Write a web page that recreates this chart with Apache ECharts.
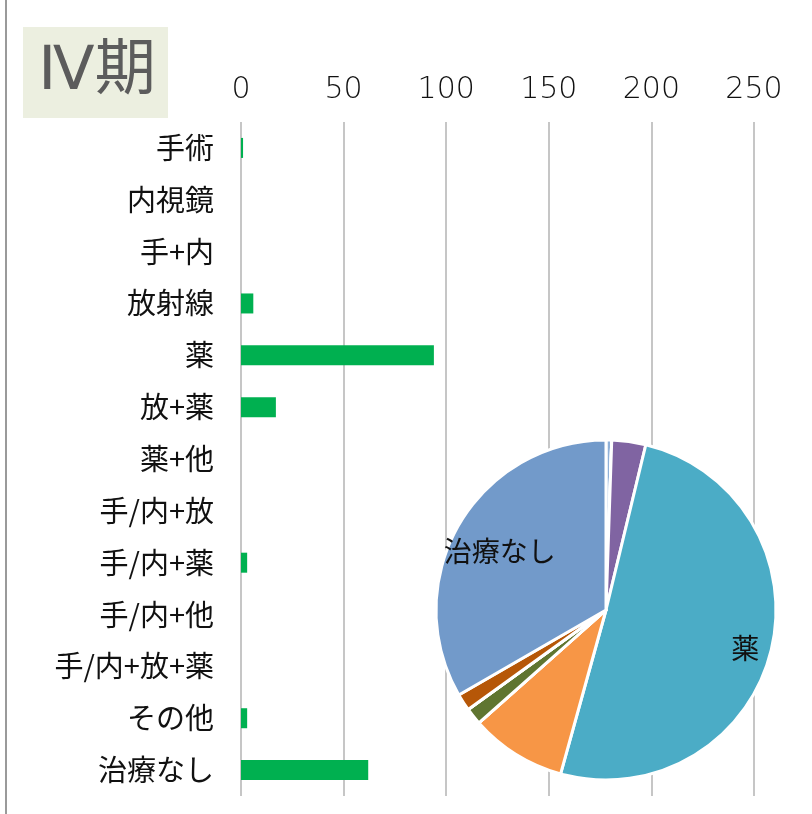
<!DOCTYPE html>
<html>
<head>
<meta charset="utf-8">
<script src="https://cdn.jsdelivr.net/npm/echarts@6/dist/echarts.min.js"></script>
<style>
    html, body { margin: 0; padding: 0; background: #fff; }
    #chart { width: 812px; height: 814px; }
</style>
</head>
<body>
<div id="chart"></div>
<script>
// 治療法カテゴリ
var categories = ['手術', '内視鏡', '手+内', '放射線', '薬', '放+薬', '薬+他',
    '手/内+放', '手/内+薬', '手/内+他', '手/内+放+薬', 'その他', '治療なし'];
// 件数
var counts = [1, 0, 0, 6, 94, 17, 0, 0, 3, 0, 0, 3, 62];
// 横軸目盛
var axisTicks = [0, 50, 100, 150, 200, 250];
// 円グラフの色 (カテゴリ順)
var pieColors = ['#8FB0D8', '#C0504D', '#9BBB59', '#8064A2', '#4BACC6', '#F79646',
    '#2C4D75', '#772C2A', '#5F7530', '#4D3B62', '#276A7C', '#B65708', '#729ACA'];
// 円グラフでラベルを出すカテゴリ
var pieLabelNames = ['薬', '治療なし'];

var font = '"Noto Sans CJK JP", "Noto Sans", sans-serif';
var numFont = '"DejaVu Sans", sans-serif';

function eachItem(arr, fn) {
    for (var i = 0; i < arr.length; i++) fn(i, arr[i]);
}

var pieData = [];
eachItem(categories, function (index, name) {
    pieData.push({
        name: name,
        value: counts[index],
        itemStyle: { color: pieColors[index] },
        label: { show: pieLabelNames.indexOf(name) >= 0 }
    });
});

var myChart = echarts.init(document.getElementById('chart'));
myChart.setOption({
    animation: false,
    grid: { //棒グラフ領域
        left: 241,
        right: 58,
        top: 122,
        bottom: 18
    },
    xAxis: {
        type: 'value',
        position: 'top',
        min: axisTicks[0],
        max: axisTicks[axisTicks.length - 1],
        interval: axisTicks[1] - axisTicks[0],
        axisLine: { show: false },
        axisTick: { show: false },
        axisLabel: {
            margin: 17,
            fontSize: 30,
            fontWeight: 200,
            color: '#111',
            fontFamily: numFont
        },
        splitLine: {
            lineStyle: { color: '#c6c6c6', width: 2 }
        }
    },
    yAxis: {
        type: 'category',
        inverse: true,
        data: categories,
        axisLine: { show: false },
        axisTick: { show: false },
        axisLabel: {
            margin: 27,
            fontSize: 29,
            color: '#111',
            fontFamily: font
        }
    },
    graphic: [
        { //左枠線
            type: 'line',
            shape: { x1: 6, y1: 0, x2: 6, y2: 814 },
            style: { stroke: '#9a9a9a', lineWidth: 2 }
        },
        { //タイトル背景
            type: 'rect',
            shape: { x: 23, y: 27, width: 145, height: 91 },
            style: { fill: '#ECEFE0' }
        },
        {
            type: 'text',
            x: 97,
            y: 73,
            style: {
                text: 'Ⅳ期',
                fontSize: 61,
                fill: '#5c5c5c',
                fontFamily: '"DejaVu Sans", "Noto Sans CJK JP", sans-serif',
                align: 'center',
                verticalAlign: 'middle'
            }
        }
    ],
    series: [
        {
            name: '件数',
            type: 'bar',
            data: counts,
            barWidth: 20,
            itemStyle: { color: '#00B050' }
        },
        {
            name: '割合',
            type: 'pie',
            center: [606, 610],
            radius: 170,
            startAngle: 90,
            clockwise: true,
            z: 5,
            data: pieData,
            itemStyle: { borderColor: '#fff', borderWidth: 3 },
            label: {
                position: 'inside',
                formatter: '{b}',
                fontSize: 28,
                color: '#111',
                fontFamily: font
            },
            labelLine: { show: false },
            labelLayout: function (params) { //ラベル位置の微調整
                var name = categories[params.dataIndex];
                if (name === '薬') return { dx: 54, dy: 16 };
                if (name === '治療なし') return { dx: -30, dy: -15 };
                return {};
            }
        }
    ]
});
</script>
</body>
</html>
